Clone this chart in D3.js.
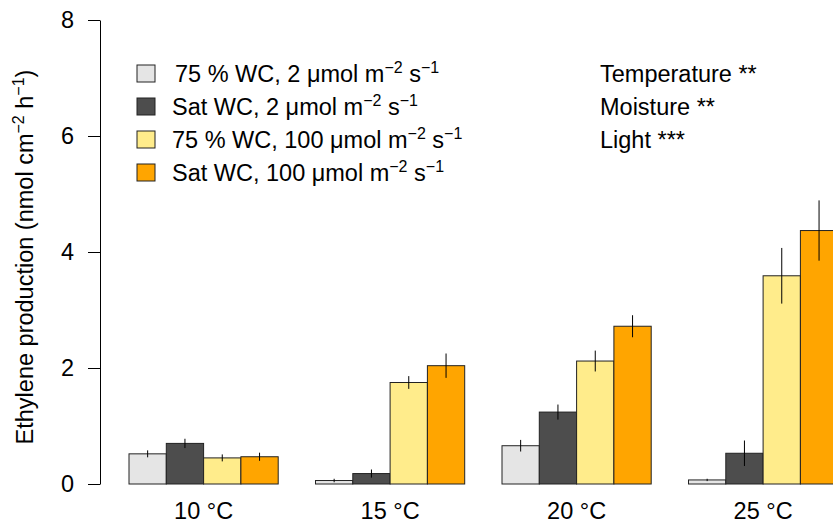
<!DOCTYPE html>
<html>
<head>
<meta charset="utf-8">
<script src="https://cdnjs.cloudflare.com/ajax/libs/d3/7.8.5/d3.min.js"></script>
<style>
  body { margin: 0; background: #fff; }
  svg { font-family: "Liberation Sans", Arial, Helvetica, sans-serif; }
</style>
</head>
<body>
<div class="main"></div>
<script>
// data
let temps = ['10 °C', '15 °C', '20 °C', '25 °C'];
let treatments = ['75wc2', 'sat2', '75wc100', 'sat100'];
let means = {
  '75wc2':   [0.52, 0.06, 0.66, 0.07],
  'sat2':    [0.70, 0.18, 1.24, 0.53],
  '75wc100': [0.45, 1.75, 2.12, 3.59],
  'sat100':  [0.47, 2.04, 2.72, 4.37]
};
let errs = {
  '75wc2':   [0.06, 0.03, 0.10, 0.02],
  'sat2':    [0.08, 0.07, 0.13, 0.22],
  '75wc100': [0.06, 0.11, 0.18, 0.48],
  'sat100':  [0.07, 0.21, 0.19, 0.52]
};
let legendLabels = [
  '75 % WC, 2 μmol m',
  'Sat WC, 2 μmol m',
  '75 % WC, 100 μmol m',
  'Sat WC, 100 μmol m'
];
let yTicks = [0, 2, 4, 6, 8];
let effects = ['Temperature **', 'Moisture **', 'Light ***'];

let colors = {
  '75wc2': '#e5e5e5',
  'sat2': '#4d4d4d',
  '75wc100': '#ffec8b',
  'sat100': '#ffa500'
};

let width = 833, height = 524;
let fs = 23.5, sup = 16;

let svg = d3.select('.main').append('svg')
  .attr('width', width)
  .attr('height', height);

let y = d3.scaleLinear().domain([0, 8]).range([484, 20]);

let x0 = d3.scaleBand().domain(temps).range([129, 837.7])
  .paddingInner(0.2).paddingOuter(0).align(0);
let x1 = d3.scaleBand().domain(treatments).range([0, x0.bandwidth()]).padding(0);

// y axis
let yAxis = svg.append('g')
  .attr('transform', 'translate(100,0)')
  .call(d3.axisLeft(y).tickValues(yTicks).tickSize(12).tickPadding(14).tickSizeOuter(0));
yAxis.select('.domain').attr('stroke', '#000').attr('stroke-width', 1);
yAxis.selectAll('.tick line').attr('stroke', '#000');
yAxis.selectAll('.tick text').attr('font-size', fs).attr('fill', '#000')
  .attr('font-family', '"Liberation Sans", Arial, sans-serif');

// helper for "... m⁻² s⁻¹" style units
function addSup(t, s) {
  t.append('tspan').attr('font-size', sup).attr('dy', -9).text(s);
}
function addBase(t, s) {
  t.append('tspan').attr('dy', 9).text(s);
}

// y title
let yt = svg.append('text')
  .attr('transform', 'translate(33,257) rotate(-90)')
  .attr('text-anchor', 'middle')
  .attr('font-size', fs);
yt.append('tspan').text('Ethylene production (nmol cm');
addSup(yt, '−2');
addBase(yt, ' h');
addSup(yt, '−1');
addBase(yt, ')');

// bars
let groups = svg.selectAll('.grp').data(temps).enter().append('g')
  .attr('class', 'grp')
  .attr('transform', d => 'translate(' + x0(d) + ',0)');

let rows = (t, i) => treatments.map(k => ({k: k, v: means[k][i], e: errs[k][i]}));

groups.selectAll('rect').data(rows)
  .enter().append('rect')
  .attr('x', d => x1(d.k))
  .attr('y', d => y(d.v))
  .attr('width', x1.bandwidth())
  .attr('height', d => y(0) - y(d.v))
  .attr('fill', d => colors[d.k])
  .attr('stroke', '#222')
  .attr('stroke-width', 1);

groups.selectAll('line.err').data(rows)
  .enter().append('line')
  .attr('class', 'err')
  .attr('x1', d => x1(d.k) + x1.bandwidth() / 2)
  .attr('x2', d => x1(d.k) + x1.bandwidth() / 2)
  .attr('y1', d => y(d.v + d.e))
  .attr('y2', d => y(d.v - d.e))
  .attr('stroke', '#000')
  .attr('stroke-width', 1);

// x labels
svg.selectAll('.xlab').data(temps).enter().append('text')
  .attr('class', 'xlab')
  .attr('x', d => x0(d) + x0.bandwidth() / 2)
  .attr('y', 519)
  .attr('text-anchor', 'middle')
  .attr('font-size', fs)
  .text(d => d);

// legend
let leg = svg.selectAll('.leg').data(treatments).enter().append('g')
  .attr('class', 'leg')
  .attr('transform', (d, i) => 'translate(137,' + (65 + i * 33) + ')');
leg.append('rect')
  .attr('width', 18).attr('height', 17)
  .attr('fill', d => colors[d])
  .attr('stroke', '#222');
leg.each(function(d, i) {
  let t = d3.select(this).append('text')
    .attr('x', i === 0 ? 38 : 35)
    .attr('y', 17)
    .attr('font-size', fs);
  t.append('tspan').text(legendLabels[i]);
  addSup(t, '−2');
  addBase(t, ' s');
  addSup(t, '−1');
});

// significance notes
svg.selectAll('.eff').data(effects).enter().append('text')
  .attr('class', 'eff')
  .attr('x', 600)
  .attr('y', (d, i) => 82 + i * 33)
  .attr('font-size', fs)
  .text(d => d);
</script>
</body>
</html>
